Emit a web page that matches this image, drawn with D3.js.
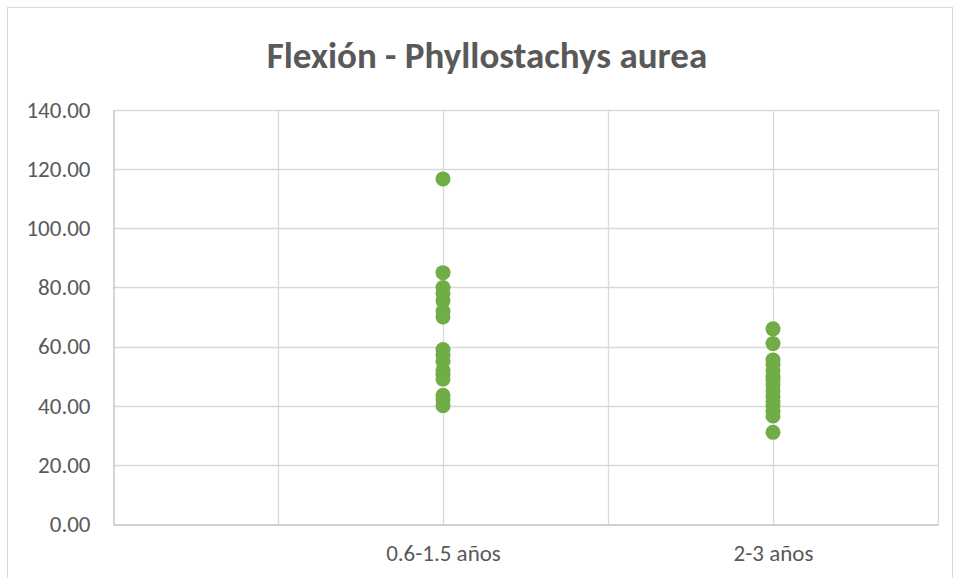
<!DOCTYPE html>
<html><head><meta charset="utf-8">
<script src="https://cdn.jsdelivr.net/npm/d3@7"></script>
<style>body{margin:0;background:#fff}svg{display:block}</style>
</head><body>
<svg id="c" width="955" height="578"></svg>
<script>
const title = "Flexión - Phyllostachys aurea";
const categories = ["0.6-1.5 años", "2-3 años"];
const categoryPos = [2, 4];
const series1 = [116.7, 85.0, 80.0, 78.0, 75.5, 72.0, 70.0, 59.0, 57.0, 55.0, 52.0, 50.5, 49.0, 43.5, 42.0, 40.0];
const series2 = [66.0, 61.0, 55.5, 54.0, 52.0, 50.0, 48.5, 47.0, 45.0, 43.0, 41.5, 40.0, 38.0, 36.5, 31.0];
const yTicks = [0, 20, 40, 60, 80, 100, 120, 140];
const xGrid = [1, 2, 3, 4, 5];

const svg = d3.select("#c");
const L = 113, R = 938, T = 110, B = 524;
const x = d3.scaleLinear().domain([0, 5]).range([L, R]);
const y = d3.scaleLinear().domain([0, 140]).range([B, T]);
const font = "Carlito, Calibri, 'Open Sans', sans-serif";

svg.append("rect").attr("x", 7.5).attr("y", 7.5).attr("width", 945).attr("height", 600)
  .attr("fill", "#fff").attr("stroke", "#d9d9d9");

// gridlines
svg.append("g").selectAll("line").data(yTicks.filter(d => d > 0)).join("line")
  .attr("x1", L).attr("x2", R).attr("y1", d => Math.round(y(d)) + 0.5).attr("y2", d => Math.round(y(d)) + 0.5)
  .attr("stroke", "#d9d9d9").attr("stroke-width", 1.3);
svg.append("g").selectAll("line").data(xGrid).join("line")
  .attr("y1", T).attr("y2", B).attr("x1", d => Math.round(x(d)) + 0.5).attr("x2", d => Math.round(x(d)) + 0.5)
  .attr("stroke", "#d9d9d9").attr("stroke-width", 1.3);

// axes
const yAxis = d3.axisLeft(y).tickValues(yTicks).tickSize(0).tickPadding(23).tickFormat(d3.format(".2f"));
const gy = svg.append("g").attr("transform", `translate(${L + 0.5},0)`).call(yAxis);
gy.select(".domain").attr("stroke", "#bfbfbf").attr("stroke-width", 1.3);
gy.selectAll("text").attr("fill", "#595959").style("font-family", font).style("font-size", "23px");

const xAxis = d3.axisBottom(x).tickValues(categoryPos).tickSize(0).tickPadding(20)
  .tickFormat((d, i) => categories[i]);
const gx = svg.append("g").attr("transform", `translate(0,${B + 0.5})`).call(xAxis);
gx.select(".domain").attr("stroke", "#bfbfbf").attr("stroke-width", 1.3);
gx.selectAll("text").attr("fill", "#595959").style("font-family", font).style("font-size", "23px");

// points
const pts = [].concat(series1.map(v => ({c: categoryPos[0], v})), series2.map(v => ({c: categoryPos[1], v})));
svg.append("g").selectAll("circle").data(pts).join("circle")
  .attr("cx", d => x(d.c)).attr("cy", d => y(d.v)).attr("r", 7.5).attr("fill", "#70ad47");

svg.append("text").attr("x", 487).attr("y", 68).attr("text-anchor", "middle")
  .attr("fill", "#595959").style("font-family", font).style("font-size", "37px").style("font-weight", "bold")
  .text(title);
</script>
</body></html>
